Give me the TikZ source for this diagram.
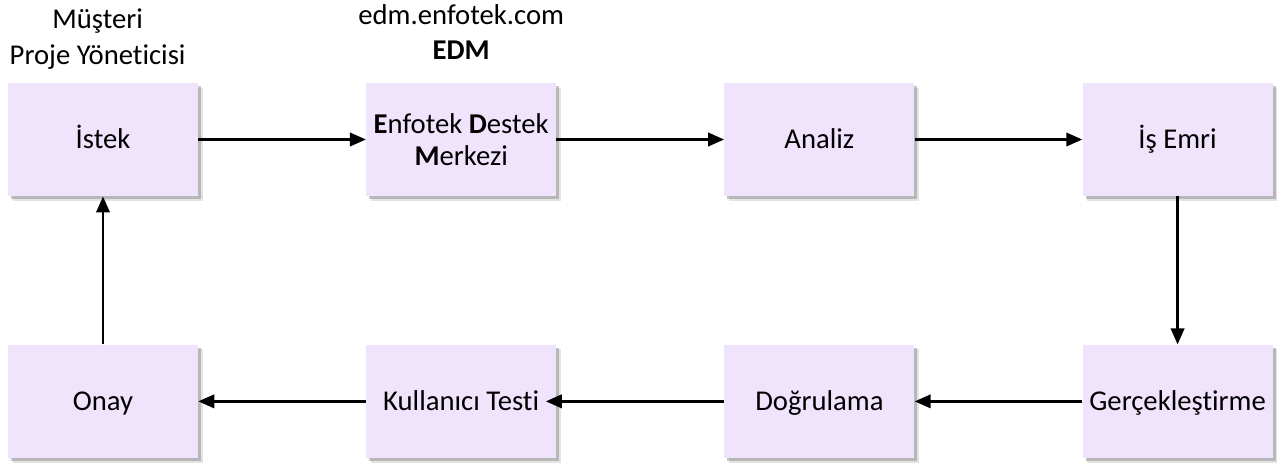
\documentclass[tikz,border=0pt]{standalone}
\usepackage{fontspec}
\setmainfont{Carlito}[Ligatures=NoCommon]
\usepackage{xcolor}
\usepackage{tikz}
\usetikzlibrary{arrows.meta,positioning,shadows}
\definecolor{stagefill}{RGB}{240,228,252}

\begin{document}
\begin{tikzpicture}[
  font=\fontsize{21.5pt}{24pt}\selectfont,
  >={Triangle[length=12pt,width=10pt]},
  stage/.style={fill=stagefill, align=center, inner sep=0pt,
                minimum width=142.5pt, minimum height=85pt,
                text height=13.85pt, text depth=0pt,
                drop shadow={shadow xshift=3.6pt, shadow yshift=-3.6pt, fill=black!22},
                drop shadow={shadow xshift=2.2pt, shadow yshift=-2.2pt, fill=black!45}},
  lbl/.style={align=center, inner sep=0pt, text depth=0pt,
              font=\fontsize{21.5pt}{26.5pt}\selectfont},
  flow/.style={->, line width=2pt},
  node distance=125.75pt]
\useasboundingbox (-77.25pt,104.625pt) rectangle (887.25pt,-245.625pt);
\node[stage] (istek) {İstek};
\node[stage, right=of istek, text height={}, text depth={}] (edm) {\textbf{E}nfotek \textbf{D}estek\\\textbf{M}erkezi};
\node[stage, right=of edm] (analiz) {Analiz};
\node[stage, right=of analiz] (isemri) {İş Emri};
\node[stage, below=111pt of isemri] (gercek) {Gerçekleştirme};
\node[stage, left=of gercek] (dogru) {Doğrulama};
\node[stage, left=of dogru] (ktest) {Kullanıcı Testi};
\node[stage, left=of ktest] (onay) {Onay};
\node[lbl, above=13.5pt of istek, xshift=-4pt] (musteri) {Müşteri\\Proje Yöneticisi};
\node[lbl, above=17pt of edm] (site) {edm.enfotek.com\\\textbf{EDM}};
\draw[flow] (istek) -- (edm);
\draw[flow] (edm) -- (analiz);
\draw[flow] (analiz) -- (isemri);
\draw[flow] (isemri) -- (gercek);
\draw[flow] (gercek) -- (dogru);
\draw[flow, shorten >=-8pt] (dogru) -- (ktest);
\draw[flow] (ktest) -- (onay);
\draw[flow] (onay) -- (istek);
\end{tikzpicture}
\end{document}
